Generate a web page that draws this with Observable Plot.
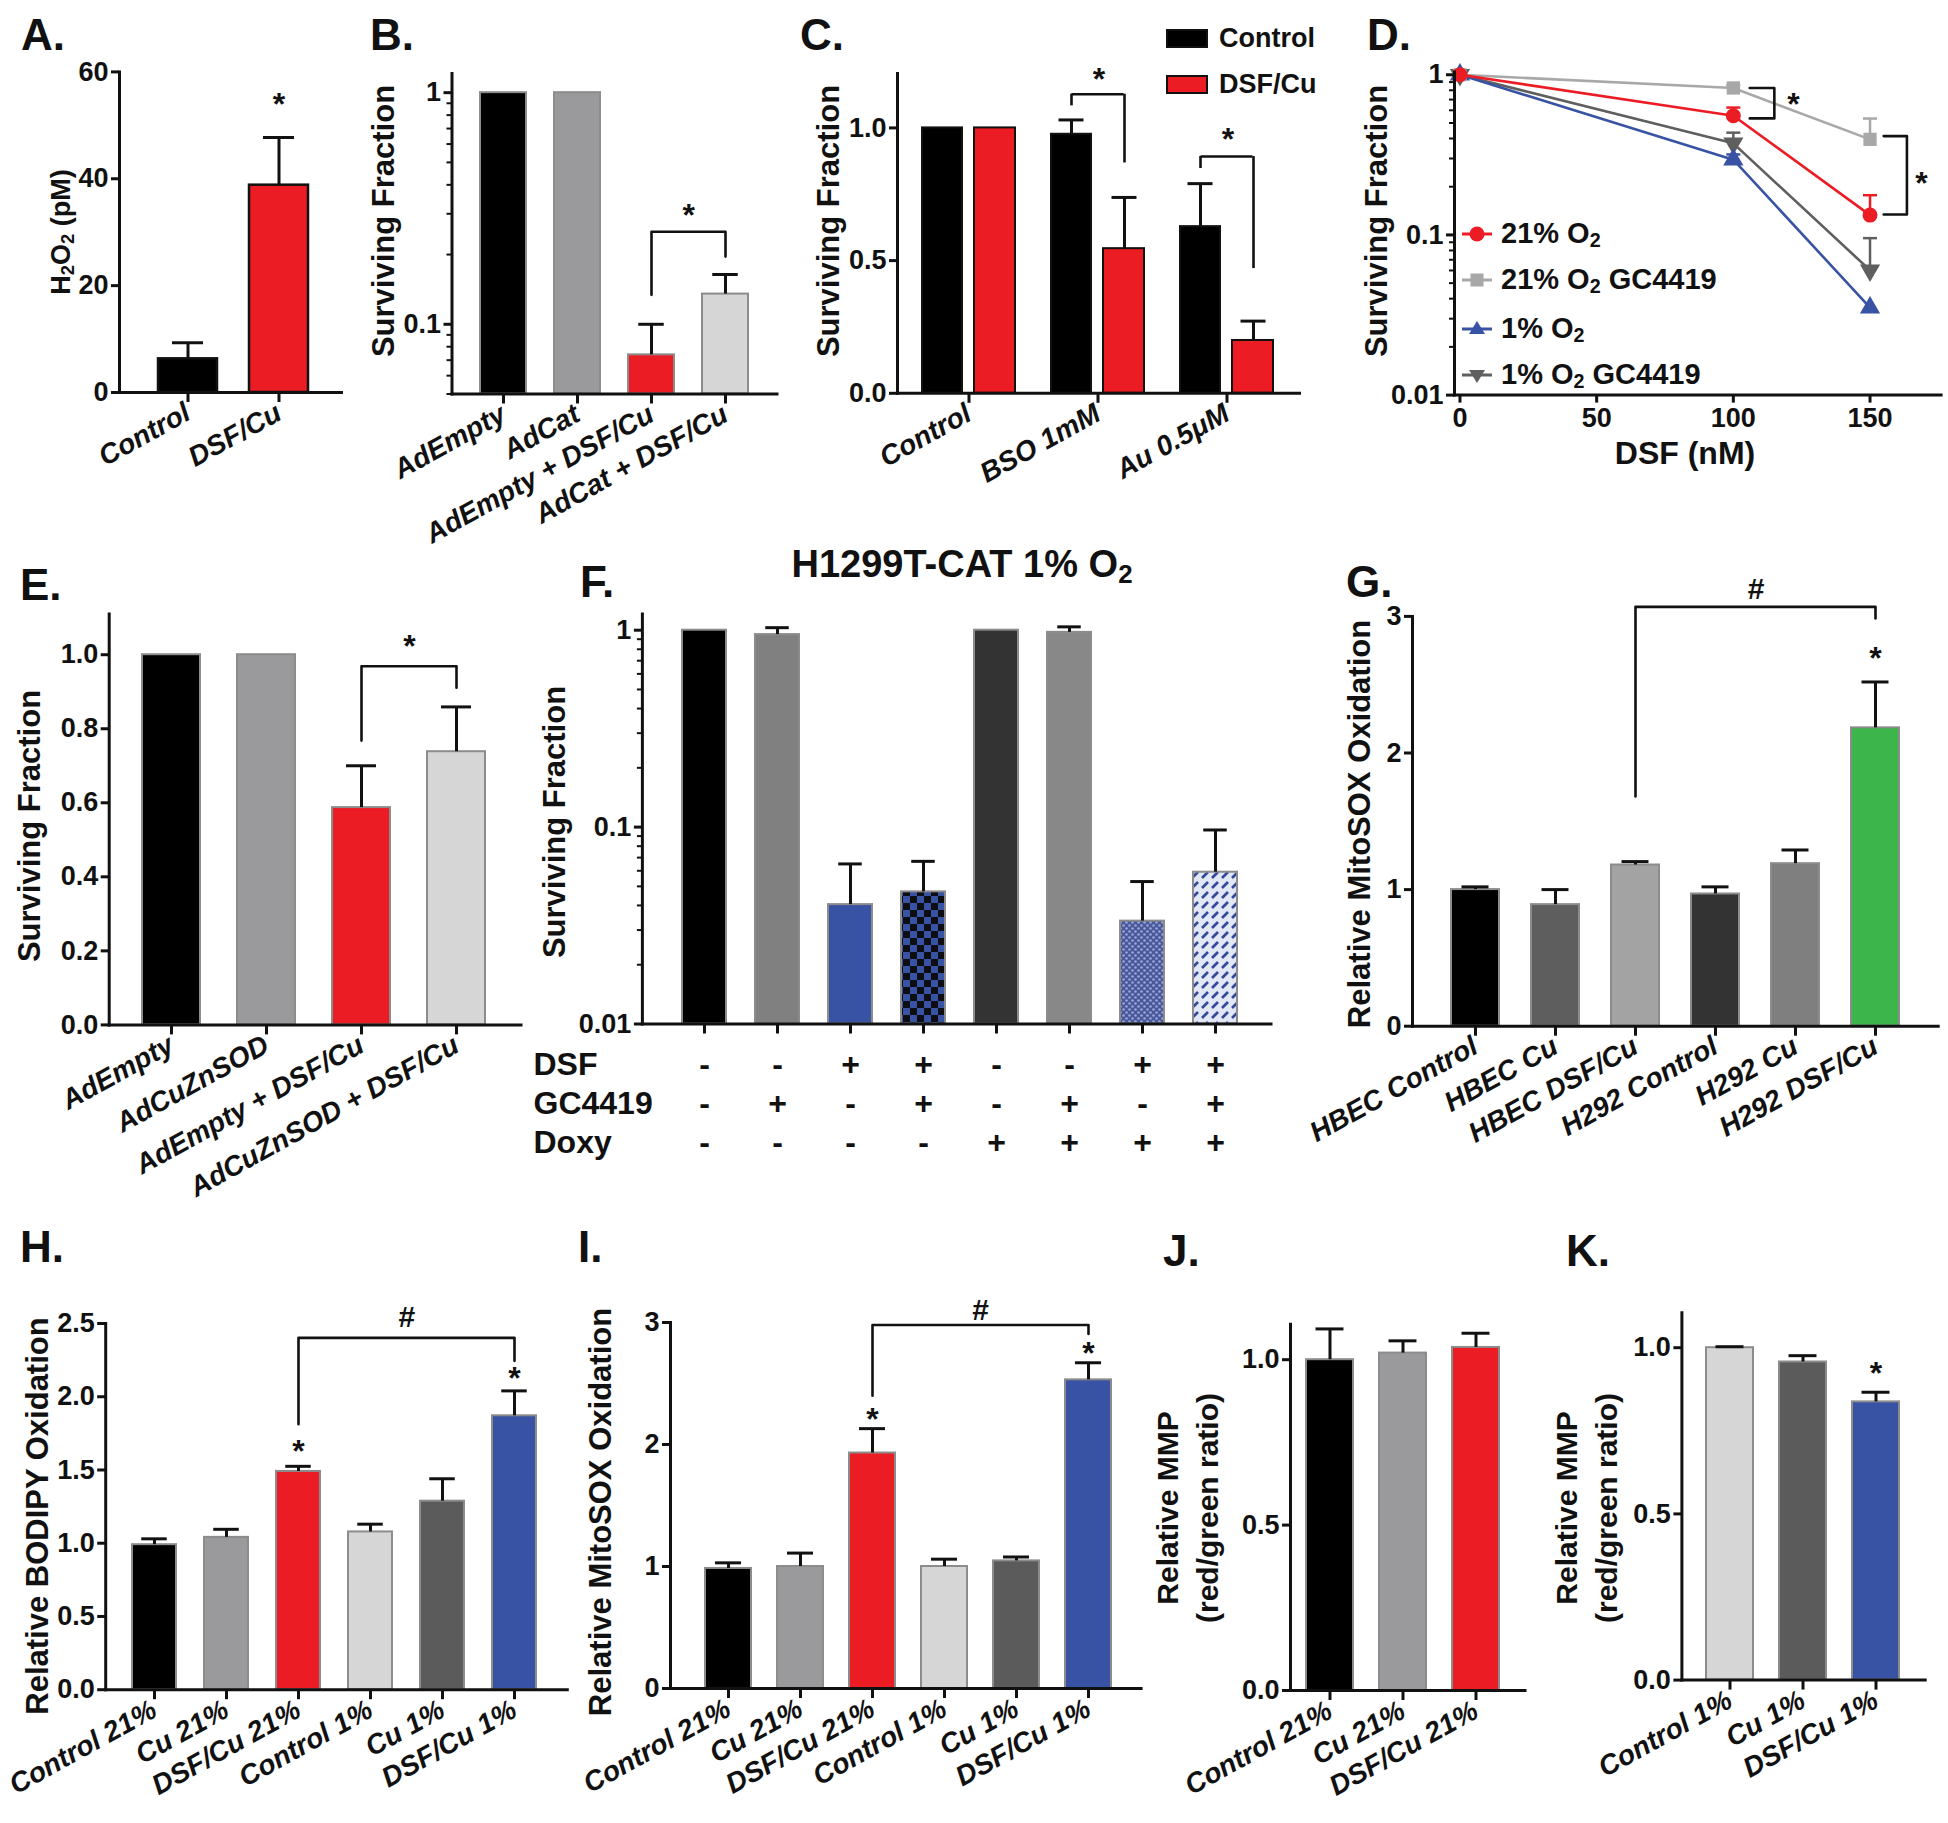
<!DOCTYPE html>
<html>
<head>
<meta charset="utf-8">
<script src="https://cdn.jsdelivr.net/npm/d3@7"></script>
<script src="https://cdn.jsdelivr.net/npm/@observablehq/plot@0.6"></script>
<style>
  body { margin: 0; background: #fff; }
  #page { position: relative; width: 1948px; height: 1823px; overflow: hidden; background: #fff;
          font-family: "Liberation Sans", Arial, Helvetica, sans-serif; color: #111; }
  .lbl { position: absolute; white-space: nowrap; font-weight: bold; line-height: 1; color: #111; }
  .lbl sub { font-size: 0.68em; vertical-align: -0.22em; line-height: 0; }
  .sw { position: absolute; }
</style>
</head>
<body>
<svg width="0" height="0" style="position:absolute">
  <defs>
    <pattern id="checker" width="14" height="14" patternUnits="userSpaceOnUse">
      <rect width="14" height="14" fill="#3953a4"/>
      <rect width="7" height="7" fill="#0d0d14"/>
      <rect x="7" y="7" width="7" height="7" fill="#0d0d14"/>
    </pattern>
    <pattern id="crosshatch" width="6" height="6" patternUnits="userSpaceOnUse">
      <rect width="6" height="6" fill="#48589a"/>
      <circle cx="1.5" cy="1.5" r="1.3" fill="#9aa7d6"/>
      <circle cx="4.5" cy="4.5" r="1.3" fill="#9aa7d6"/>
    </pattern>
    <pattern id="dashes" width="10" height="10" patternUnits="userSpaceOnUse">
      <rect width="10" height="10" fill="#e2e7f5"/>
      <path d="M2,8 L8,2" stroke="#34489a" stroke-width="2.6"/>
    </pattern>
  </defs>
</svg>
<div id="page"></div>
<script>
// ================= DATA =================
// A
const aCats = ["Control", "DSF/Cu"];
const aVals = [6.3, 38.8];
const aErr = [9.3, 47.7];
const aFills = ["#000000", "#ec1c24"];
const aStars = [{x: "DSF/Cu", y: 55.3, t: "*", shift: 0}];

// B
const bCats = ["AdEmpty", "AdCat", "AdEmpty + DSF/Cu", "AdCat + DSF/Cu"];
const bVals = [1, 1, 0.0738, 0.135];
const bErr = [null, null, 0.1, 0.164];
const bFills = ["#000000", "#9a9a9c", "#ec1c24", "#d6d6d6"];
const bBrackets = [{a: "AdEmpty + DSF/Cu", b: "AdCat + DSF/Cu", y1: 0.134, top: 0.251, y2: 0.196}];
const bStars = [{x: "AdEmpty + DSF/Cu", y: 0.32, t: "*", shift: 0.5}];

// C
const cGroups = ["Control", "BSO 1mM", "Au 0.5μM"];
const cCtrl = [1, 0.976, 0.628];
const cCtrlErr = [null, 1.03, 0.79];
const cDsf = [1, 0.545, 0.199];
const cDsfErr = [null, 0.738, 0.272];
const cBrackets = [{g: "BSO 1mM", y1: 1.083, top: 1.127, y2: 0.868}, {g: "Au 0.5μM", y1: 0.847, top: 0.892, y2: 0.47}];
const cStars = [{g: "BSO 1mM", y: 1.213}, {g: "Au 0.5μM", y: 0.987}];
const cLegend = ["Control", "DSF/Cu"];

// D
const dDose = [0, 100, 150];
const dNames = ["21% O<sub>2</sub>", "21% O<sub>2</sub> GC4419", "1% O<sub>2</sub>", "1% O<sub>2</sub> GC4419"];
const d21 = [1, 0.555, 0.133];
const d21Err = [null, 0.624, 0.177];
const d21gc = [1, 0.827, 0.395];
const d21gcErr = [null, 0.86, 0.533];
const d1 = [1, 0.295, 0.0352];
const d1Err = [null, 0.318, null];
const d1gc = [1, 0.373, 0.0602];
const d1gcErr = [null, 0.435, 0.0955];
const dBrackets = [{x1: 106, x2: 115, top: 0.827, bot: 0.534}, {x1: 155, x2: 163.5, top: 0.414, bot: 0.134}];
const dStars = [{x: 122, y: 0.732}, {x: 168.8, y: 0.235}];

// E
const eCats = ["AdEmpty", "AdCuZnSOD", "AdEmpty + DSF/Cu", "AdCuZnSOD + DSF/Cu"];
const eVals = [1, 1, 0.587, 0.738];
const eErr = [null, null, 0.70, 0.859];
const eFills = ["#000000", "#9a9a9c", "#ec1c24", "#d6d6d6"];
const eBrackets = [{a: "AdEmpty + DSF/Cu", b: "AdCuZnSOD + DSF/Cu", y1: 0.768, top: 0.969, y2: 0.911}];
const eStars = [{x: "AdEmpty + DSF/Cu", y: 1.044, t: "*", shift: 0.5}];

// F
const fCats = ["c1", "c2", "c3", "c4", "c5", "c6", "c7", "c8"];
const fVals = [1, 0.95, 0.0404, 0.0469, 1, 0.975, 0.0333, 0.059];
const fErr = [null, 1.03, 0.065, 0.067, null, 1.04, 0.0529, 0.0967];
const fFills = ["#000000", "#808080", "#3953a4", "url(#checker)", "#333333", "#888888", "url(#crosshatch)", "url(#dashes)"];
const fRowNames = ["DSF", "GC4419", "Doxy"];
const fDSF = ["-", "-", "+", "+", "-", "-", "+", "+"];
const fGC = ["-", "+", "-", "+", "-", "+", "-", "+"];
const fDoxy = ["-", "-", "-", "-", "+", "+", "+", "+"];

// G
const gCats = ["HBEC Control", "HBEC Cu", "HBEC DSF/Cu", "H292 Control", "H292 Cu", "H292 DSF/Cu"];
const gVals = [1.0, 0.89, 1.18, 0.968, 1.19, 2.184];
const gErr = [1.02, 1.0, 1.205, 1.02, 1.29, 2.52];
const gFills = ["#000000", "#5e5e5e", "#a3a3a3", "#333333", "#7f7f7f", "#3cb54a"];
const gBrackets = [{a: "HBEC DSF/Cu", b: "H292 DSF/Cu", y1: 1.682, top: 3.07, y2: 2.985}];
const gStars = [{x: "H292 Control", y: 3.206, t: "#", shift: 0.5}, {x: "H292 DSF/Cu", y: 2.746, t: "*", shift: 0}];

// H
const hCats = ["Control 21%", "Cu 21%", "DSF/Cu 21%", "Control 1%", "Cu 1%", "DSF/Cu 1%"];
const hVals = [0.99, 1.04, 1.49, 1.077, 1.287, 1.87];
const hErr = [1.03, 1.095, 1.525, 1.13, 1.44, 2.04];
const hFills = ["#000000", "#9a9a9c", "#ec1c24", "#d6d6d6", "#5b5b5b", "#3953a4"];
const hBrackets = [{a: "DSF/Cu 21%", b: "DSF/Cu 1%", y1: 1.812, top: 2.402, y2: 2.245}];
const hStars = [{x: "Control 1%", y: 2.548, t: "#", shift: 0.5}, {x: "DSF/Cu 21%", y: 1.681, t: "*", shift: 0}, {x: "DSF/Cu 1%", y: 2.18, t: "*", shift: 0}];

// I
const iCats = ["Control 21%", "Cu 21%", "DSF/Cu 21%", "Control 1%", "Cu 1%", "DSF/Cu 1%"];
const iVals = [0.984, 1.0, 1.93, 1.0, 1.046, 2.53];
const iErr = [1.03, 1.11, 2.13, 1.06, 1.078, 2.67];
const iFills = ["#000000", "#9a9a9c", "#ec1c24", "#d6d6d6", "#5b5b5b", "#3953a4"];
const iBrackets = [{a: "DSF/Cu 21%", b: "DSF/Cu 1%", y1: 2.40, top: 2.979, y2: 2.906}];
const iStars = [{x: "Control 1%", y: 3.107, t: "#", shift: 0.5}, {x: "DSF/Cu 21%", y: 2.27, t: "*", shift: 0}, {x: "DSF/Cu 1%", y: 2.81, t: "*", shift: 0}];

// J
const jCats = ["Control 21%", "Cu 21%", "DSF/Cu 21%"];
const jVals = [1.0, 1.02, 1.037];
const jErr = [1.093, 1.057, 1.08];
const jFills = ["#000000", "#9a9a9c", "#ec1c24"];

// K
const kCats = ["Control 1%", "Cu 1%", "DSF/Cu 1%"];
const kVals = [1.0, 0.957, 0.837];
const kErr = [1.003, 0.976, 0.866];
const kFills = ["#d6d6d6", "#5b5b5b", "#3953a4"];
const kStars = [{x: "DSF/Cu 1%", y: 0.947, t: "*", shift: 0}];

// tick values
const logMinorB = [0.05, 0.06, 0.07, 0.08, 0.09, 0.2, 0.3, 0.4, 0.5, 0.6, 0.7, 0.8, 0.9];
const logMinor2 = [0.02, 0.03, 0.04, 0.05, 0.06, 0.07, 0.08, 0.09, 0.2, 0.3, 0.4, 0.5, 0.6, 0.7, 0.8, 0.9];

// text
const panelLetters = [["A.", 21, 50], ["B.", 370, 50], ["C.", 800, 50], ["D.", 1367, 50],
  ["E.", 20, 600], ["F.", 580, 597], ["G.", 1346, 597], ["H.", 20, 1262], ["I.", 578, 1262], ["J.", 1163, 1266], ["K.", 1566, 1266]];
const yTitles = [
  ["H<sub>2</sub>O<sub>2</sub> (pM)", 61, 232, 27],
  ["Surviving Fraction", 383, 221, 31],
  ["Surviving Fraction", 828, 221, 31],
  ["Surviving Fraction", 1376, 221, 31],
  ["Surviving Fraction", 29, 826, 31],
  ["Surviving Fraction", 554, 822, 31],
  ["Relative MitoSOX Oxidation", 1359, 824, 31],
  ["Relative BODIPY Oxidation", 37, 1516, 31],
  ["Relative MitoSOX Oxidation", 600, 1512, 31],
  ["Relative MMP<br>(red/green ratio)", 1188, 1508, 30, 40],
  ["Relative MMP<br>(red/green ratio)", 1587, 1508, 30, 40]
];

// ================= HELPERS =================
const W = 1948, H = 1823;
const page = document.getElementById("page");
const FONT = "Liberation Sans, Arial, Helvetica, sans-serif";
const STYLE = "position:absolute;left:0;top:0;background:transparent;overflow:visible;max-width:none;font-family:'Liberation Sans',Arial,sans-serif;color:#111;";
const INK = "#111111";
const ROT = -29;

function addPlot(frame, options) {
  const [L, R, T, B] = frame;
  const svg = Plot.plot({
    width: W, height: H,
    marginLeft: L, marginRight: W - R, marginTop: T, marginBottom: H - B,
    style: STYLE,
    ...options
  });
  page.appendChild(svg);
  return svg;
}

function yAxisMarks(ticks, fmt, minor) {
  const m = [Plot.axisY({ticks, tickFormat: fmt, tickSize: 8, tickPadding: 3, fontSize: 27, fontWeight: "bold", fontFamily: FONT, strokeWidth: 3, label: null})];
  if (minor) m.push(Plot.axisY({ticks: minor, tickFormat: () => "", tickSize: 5, strokeWidth: 2, label: null}));
  m.push(Plot.frame({anchor: "left", strokeWidth: 3, stroke: INK}));
  m.push(Plot.frame({anchor: "bottom", strokeWidth: 3, stroke: INK}));
  return m;
}

function xLabelAxis(extra = {}) {
  return Plot.axisX({tickSize: 10, tickPadding: 8, tickRotate: ROT, fontSize: 28, fontWeight: "bold", fontStyle: "italic",
                     fontFamily: FONT, strokeWidth: 3, label: null, ...extra});
}

function starMarks(stars, step) {
  return (stars || []).map(s => Plot.text([s], {
    x: "x", y: "y", text: "t", dx: s.shift * step, dy: s.t === "*" ? 8 : 1,
    fontSize: s.t === "*" ? 32 : 30, fontWeight: "bold", fontFamily: FONT, fill: INK
  }));
}

function bracketMarks(brackets) {
  return (brackets || []).map(b => Plot.line(
    [{x: b.a, y: b.y1}, {x: b.a, y: b.top}, {x: b.b, y: b.top}, {x: b.b, y: b.y2}],
    {x: "x", y: "y", stroke: INK, strokeWidth: 2.6, curve: "linear"}));
}

function barPanel(cfg) {
  const {cats, vals, errs, fills, frame, xRange, pi, yType = "linear", yDomain, yTicks, yFormat, minor,
         stroke = "#8c8c8c", strokeWidth = 2, capW = 30, labels = true, brackets, stars, extra = []} = cfg;
  const rows = cats.map((c, i) => ({c, v: vals[i], e: errs[i], f: fills[i]}));
  const withErr = rows.filter(d => d.e != null);
  const y0 = yDomain[0];
  const n = cats.length;
  const step = (xRange[1] - xRange[0]) / (n - pi);
  const bw = step * (1 - pi);
  const ins = (bw - capW) / 2;
  const marks = [
    Plot.barY(rows, {x: "c", y1: () => y0, y2: "v", fill: "f", stroke, strokeWidth}),
    Plot.ruleX(withErr, {x: "c", y1: "v", y2: "e", stroke: INK, strokeWidth: 3}),
    Plot.tickY(withErr, {x: "c", y: "e", stroke: INK, strokeWidth: 3, insetLeft: ins, insetRight: ins}),
    ...bracketMarks(brackets),
    ...starMarks(stars, step),
    ...yAxisMarks(yTicks, yFormat, minor),
    labels ? xLabelAxis() : Plot.axisX({tickSize: 10, strokeWidth: 3, label: null, tickFormat: () => ""}),
    ...extra
  ];
  addPlot(frame, {
    x: {type: "band", domain: cats, range: xRange, paddingInner: pi, paddingOuter: 0, align: 0},
    y: {type: yType, domain: yDomain},
    color: {type: "identity"},
    marks
  });
}

const f1 = d3.format(".1f");

// ================= PANELS =================
// A
barPanel({cats: aCats, vals: aVals, errs: aErr, fills: aFills, frame: [119, 341, 71.4, 392],
  xRange: [158, 308], pi: 0.352, yDomain: [0, 60], yTicks: [0, 20, 40, 60], yFormat: d => d,
  stroke: INK, strokeWidth: 2.5, capW: 31, stars: aStars});

// B
barPanel({cats: bCats, vals: bVals, errs: bErr, fills: bFills, frame: [451.5, 776.5, 73, 393.5],
  xRange: [479.6, 749], pi: 0.374, yType: "log", yDomain: [0.05, 1.21], yTicks: [0.1, 1], yFormat: d => String(d),
  minor: logMinorB, capW: 26, brackets: bBrackets, stars: bStars});

// C (grouped)
(function () {
  const frame = [897, 1299, 73, 392.8];
  const xRange = [921.5, 1275], pi = 0.2755;
  const bw = (xRange[1] - xRange[0]) / (3 - pi) * (1 - pi);
  const half = 26.5;
  const ctrlRows = cGroups.map((g, i) => ({g, v: cCtrl[i], e: cCtrlErr[i]}));
  const dsfRows = cGroups.map((g, i) => ({g, v: cDsf[i], e: cDsfErr[i]}));
  const capIns = (bw - 26) / 2;
  const brIns = bw / 2 - half;
  const marks = [
    Plot.barY(ctrlRows, {x: "g", y: "v", fill: "#000000", stroke: INK, strokeWidth: 2, insetRight: 53}),
    Plot.barY(dsfRows, {x: "g", y: "v", fill: "#ec1c24", stroke: INK, strokeWidth: 2, insetLeft: 52}),
    Plot.ruleX(ctrlRows.filter(d => d.e != null), {x: "g", y1: "v", y2: "e", dx: -half, stroke: INK, strokeWidth: 3}),
    Plot.tickY(ctrlRows.filter(d => d.e != null), {x: "g", y: "e", dx: -half, stroke: INK, strokeWidth: 3, insetLeft: capIns, insetRight: capIns}),
    Plot.ruleX(dsfRows.filter(d => d.e != null), {x: "g", y1: "v", y2: "e", dx: half, stroke: INK, strokeWidth: 3}),
    Plot.tickY(dsfRows.filter(d => d.e != null), {x: "g", y: "e", dx: half, stroke: INK, strokeWidth: 3, insetLeft: capIns, insetRight: capIns}),
    Plot.ruleX(cBrackets, {x: "g", y1: "y1", y2: "top", dx: -half, stroke: INK, strokeWidth: 2.6}),
    Plot.ruleX(cBrackets, {x: "g", y1: "top", y2: "y2", dx: half, stroke: INK, strokeWidth: 2.6}),
    Plot.tickY(cBrackets, {x: "g", y: "top", stroke: INK, strokeWidth: 2.6, insetLeft: brIns, insetRight: brIns}),
    Plot.text(cStars, {x: "g", y: "y", text: () => "*", dx: 1, dy: 8, fontSize: 32, fontWeight: "bold", fontFamily: FONT, fill: INK}),
    ...yAxisMarks([0, 0.5, 1.0], f1),
    xLabelAxis()
  ];
  addPlot(frame, {
    x: {type: "band", domain: cGroups, range: xRange, paddingInner: pi, paddingOuter: 0, align: 0},
    y: {domain: [0, 1.205]},
    marks
  });
})();

// D (lines)
(function () {
  const frame = [1454, 1940.6, 71.4, 394.6];
  const triDown = {draw(ctx, size) {
    const y = -Math.sqrt(size / (Math.sqrt(3) * 3));
    ctx.moveTo(0, -y * 2); ctx.lineTo(-Math.sqrt(3) * y, y); ctx.lineTo(Math.sqrt(3) * y, y); ctx.closePath();
  }};
  const cap = {draw(ctx, size) { const r = Math.sqrt(size / Math.PI); ctx.moveTo(-r, 0); ctx.lineTo(r, 0); }};
  const series = [
    {v: d1gc, e: d1gcErr, color: "#5f5f5f", symbol: triDown},
    {v: d1, e: d1Err, color: "#3953a4", symbol: "triangle"},
    {v: d21gc, e: d21gcErr, color: "#a8a8a8", symbol: "square"},
    {v: d21, e: d21Err, color: "#ec1c24", symbol: "circle"}
  ];
  const marks = [];
  for (const s of series) {
    const rows = dDose.map((x, i) => ({x, v: s.v[i], e: s.e[i]}));
    const er = rows.filter(d => d.e != null);
    marks.push(Plot.ruleX(er, {x: "x", y1: "v", y2: "e", stroke: s.color, strokeWidth: 2.5}));
    marks.push(Plot.dot(er, {x: "x", y: "e", symbol: cap, r: 7, stroke: s.color, strokeWidth: 2.5, fill: "none"}));
    marks.push(Plot.line(rows, {x: "x", y: "v", stroke: s.color, strokeWidth: 2.6}));
    marks.push(Plot.dot(rows, {x: "x", y: "v", symbol: s.symbol, r: 7.5, fill: s.color, stroke: "none"}));
  }
  for (const b of dBrackets) {
    marks.push(Plot.line([{x: b.x1, y: b.top}, {x: b.x2, y: b.top}, {x: b.x2, y: b.bot}, {x: b.x1, y: b.bot}],
      {x: "x", y: "y", stroke: INK, strokeWidth: 2.6}));
  }
  marks.push(Plot.text(dStars, {x: "x", y: "y", text: () => "*", dy: 8, fontSize: 32, fontWeight: "bold", fontFamily: FONT, fill: INK}));
  marks.push(...yAxisMarks([0.01, 0.1, 1], d => String(d), logMinor2));
  marks.push(Plot.axisX({ticks: [0, 50, 100, 150], tickSize: 8, tickPadding: 5, fontSize: 27, fontWeight: "bold", fontFamily: FONT, strokeWidth: 3, label: null}));
  addPlot(frame, {
    x: {domain: [-2, 176]},
    y: {type: "log", domain: [0.01, 1.042]},
    marks
  });
})();

// E
barPanel({cats: eCats, vals: eVals, errs: eErr, fills: eFills, frame: [108.7, 520.5, 613.5, 1024.4],
  xRange: [142.4, 487.5], pi: 0.394, yDomain: [0, 1.11], yTicks: [0, 0.2, 0.4, 0.6, 0.8, 1.0], yFormat: f1,
  capW: 30, brackets: eBrackets, stars: eStars});

// F
(function () {
  const frame = [641.9, 1270.5, 613.4, 1023.5];
  const rowsText = [fDSF, fGC, fDoxy];
  const dys = [51, 89.5, 128.5];
  const extra = [];
  rowsText.forEach((arr, r) => {
    extra.push(Plot.text(fCats, {x: d => d, text: (d, i) => arr[i], frameAnchor: "bottom", dy: dys[r],
      fontSize: 32, fontWeight: "bold", fontFamily: FONT, fill: INK}));
    extra.push(Plot.text([fRowNames[r]], {text: d => d, frameAnchor: "bottom-left", dx: 533 - 641.9, dy: dys[r],
      textAnchor: "start", fontSize: 32, fontWeight: "bold", fontFamily: FONT, fill: INK}));
  });
  barPanel({cats: fCats, vals: fVals, errs: fErr, fills: fFills, frame,
    xRange: [681.9, 1241.9], pi: 0.396, yType: "log", yDomain: [0.01, 1.21], yTicks: [0.01, 0.1, 1], yFormat: d => String(d),
    minor: logMinor2, capW: 24, labels: false, extra});
})();

// G
barPanel({cats: gCats, vals: gVals, errs: gErr, fills: gFills, frame: [1412, 1937.7, 615.9, 1025.7],
  xRange: [1451, 1905], pi: 0.395, yDomain: [0, 3], yTicks: [0, 1, 2, 3], yFormat: d => d,
  capW: 28, brackets: gBrackets, stars: gStars});

// H
barPanel({cats: hCats, vals: hVals, errs: hErr, fills: hFills, frame: [105.2, 566.8, 1323, 1689.2],
  xRange: [131.9, 538.8], pi: 0.386, yDomain: [0, 2.5], yTicks: [0, 0.5, 1.0, 1.5, 2.0, 2.5], yFormat: f1,
  capW: 26, brackets: hBrackets, stars: hStars});

// I
barPanel({cats: iCats, vals: iVals, errs: iErr, fills: iFills, frame: [670, 1140.6, 1322, 1688],
  xRange: [705, 1112], pi: 0.363, yDomain: [0, 3], yTicks: [0, 1, 2, 3], yFormat: d => d,
  capW: 26, brackets: iBrackets, stars: iStars});

// J
barPanel({cats: jCats, vals: jVals, errs: jErr, fills: jFills, frame: [1290, 1524.5, 1323.8, 1690],
  xRange: [1305.5, 1498.6], pi: 0.356, yDomain: [0, 1.107], yTicks: [0, 0.5, 1.0], yFormat: f1, capW: 28});

// K
barPanel({cats: kCats, vals: kVals, errs: kErr, fills: kFills, frame: [1681.4, 1924.7, 1312.3, 1679.6],
  xRange: [1705.7, 1898.8], pi: 0.356, yDomain: [0, 1.105], yTicks: [0, 0.5, 1.0], yFormat: f1, capW: 28, stars: kStars});

// ================= HTML TEXT =================
function label(html, x, y, size, opts = {}) {
  const el = document.createElement("div");
  el.className = "lbl";
  el.innerHTML = html;
  el.style.fontSize = size + "px";
  el.style.left = x + "px";
  if (opts.rotate) {
    el.style.top = y + "px";
    el.style.textAlign = "center";
    if (opts.lineHeight) el.style.lineHeight = opts.lineHeight + "px";
    el.style.transform = "translate(-50%,-50%) rotate(-90deg)";
  } else {
    el.style.top = (y - 0.85 * size) + "px";
    if (opts.anchor === "middle") el.style.transform = "translateX(-50%)";
  }
  page.appendChild(el);
  return el;
}
for (const [t, x, y] of panelLetters) label(t, x, y, 44);
for (const [t, x, y, s, lh] of yTitles) label(t, x, y, s, {rotate: true, lineHeight: lh});
label("H1299T-CAT 1% O<sub>2</sub>", 962, 577, 38, {anchor: "middle"});
label("DSF (nM)", 1685, 464, 32, {anchor: "middle"});

// C legend
const cSwatch = ["#000000", "#ec1c24"];
cLegend.forEach((t, i) => {
  const yc = [38, 84][i];
  const sw = document.createElement("div");
  sw.className = "sw";
  Object.assign(sw.style, {left: "1166px", top: (yc - 9.5) + "px", width: "42px", height: "19px", background: cSwatch[i], border: "2px solid #111", boxSizing: "border-box"});
  page.appendChild(sw);
  label(t, 1219, yc + 9.5, 27);
});

// D legend
const dLegColors = ["#ec1c24", "#a8a8a8", "#3953a4", "#5f5f5f"];
const dLegShapes = ["circle", "square", "tri", "tridown"];
const dLegY = [234, 280, 329, 375];
dNames.forEach((t, i) => {
  const yc = dLegY[i];
  const c = dLegColors[i];
  let shape;
  if (dLegShapes[i] === "circle") shape = `<circle cx="15" cy="12" r="7.5" fill="${c}"/>`;
  else if (dLegShapes[i] === "square") shape = `<rect x="8.5" y="5.5" width="13" height="13" fill="${c}"/>`;
  else if (dLegShapes[i] === "tri") shape = `<path d="M15,4 L23,17 L7,17 Z" fill="${c}"/>`;
  else shape = `<path d="M15,20 L23,7 L7,7 Z" fill="${c}"/>`;
  const sw = document.createElement("div");
  sw.className = "sw";
  Object.assign(sw.style, {left: "1462px", top: (yc - 12) + "px", width: "30px", height: "24px"});
  sw.innerHTML = `<svg width="30" height="24"><line x1="0" y1="12" x2="30" y2="12" stroke="${c}" stroke-width="3"/>${shape}</svg>`;
  page.appendChild(sw);
  label(t, 1501, yc + 10, 29);
});
</script>
</body>
</html>
